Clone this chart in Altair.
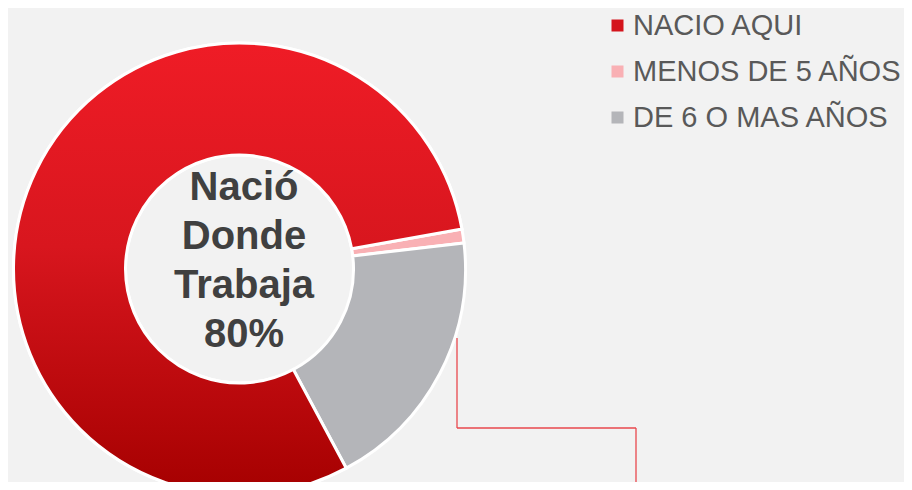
import math
import altair as alt
import pandas as pd

# ---- data ----
categories = ["NACIO AQUI", "MENOS DE 5 AÑOS", "DE 6 O MAS AÑOS"]
values = [80, 1, 19]
slice_order = [0, 1, 2]
colors = ["#d4141c", "#f9b0b4", "#b4b5b9"]
center_text = ["Nació", "Donde", "Trabaja", "80%"]

df = pd.DataFrame({"categoria": categories, "valor": values, "orden": slice_order})

# ---- layout ----
W, H = 896, 474
CX, CY = 231.5, 261
R_OUT, R_IN = 226, 114
start = math.radians(151.8)
theta_scale = alt.Scale(domain=[0, 100], range=[start, start + 2 * math.pi])

base = alt.Chart(df).encode(
    theta=alt.Theta("valor:Q", stack=True, scale=theta_scale),
    order=alt.Order("orden:Q"),
    x=alt.value(CX),
    y=alt.value(CY),
)

slices = base.mark_arc(
    outerRadius=R_OUT, innerRadius=R_IN, stroke="white", strokeWidth=3
).encode(
    color=alt.Color(
        "categoria:N",
        scale=alt.Scale(domain=categories, range=colors),
        legend=alt.Legend(
            title=None,
            orient="none",
            legendX=595,
            legendY=3,
            symbolType="square",
            symbolSize=144,
            symbolStrokeWidth=0,
            labelFontSize=29,
            labelFont="Liberation Sans",
            labelColor="#595959",
            labelLimit=500,
            rowPadding=16,
            labelOffset=1,
            padding=0,
        ),
    )
)

red_grad = alt.LinearGradient(
    gradient="linear",
    stops=[
        alt.GradientStop(color="#ef1c26", offset=0),
        alt.GradientStop(color="#d8161e", offset=0.45),
        alt.GradientStop(color="#a50000", offset=1),
    ],
    x1=0, x2=0, y1=0, y2=1,
)

red = base.transform_filter(alt.datum.categoria == categories[0]).mark_arc(
    outerRadius=R_OUT, innerRadius=R_IN, stroke="white", strokeWidth=3, fill=red_grad
)

label = alt.Chart(pd.DataFrame({"k": [0]})).mark_text(
    font="Liberation Sans",
    fontWeight="bold",
    fontSize=40,
    color="#404040",
    align="center",
    baseline="alphabetic",
    lineHeight=49,
    text=center_text,
).encode(x=alt.value(236), y=alt.value(192))

lc = "#e8474d"
seg1 = alt.Chart(pd.DataFrame({"k": [0]})).mark_rule(color=lc, strokeWidth=1.3).encode(
    x=alt.value(449), x2=alt.value(449), y=alt.value(330), y2=alt.value(420)
)
seg2 = alt.Chart(pd.DataFrame({"k": [0]})).mark_rule(color=lc, strokeWidth=1.3).encode(
    x=alt.value(449), x2=alt.value(628), y=alt.value(420), y2=alt.value(420)
)
seg3 = alt.Chart(pd.DataFrame({"k": [0]})).mark_rule(color=lc, strokeWidth=1.3).encode(
    x=alt.value(628), x2=alt.value(628), y=alt.value(420), y2=alt.value(490)
)

chart = alt.layer(slices, red, label, seg1, seg2, seg3).properties(
    width=W, height=H, autosize=alt.AutoSizeParams(type="none"), padding=0,
    background="#f2f2f2",
).configure_view(stroke=None)

chart.save("out.html", embed_options={"renderer": "svg", "actions": False})
